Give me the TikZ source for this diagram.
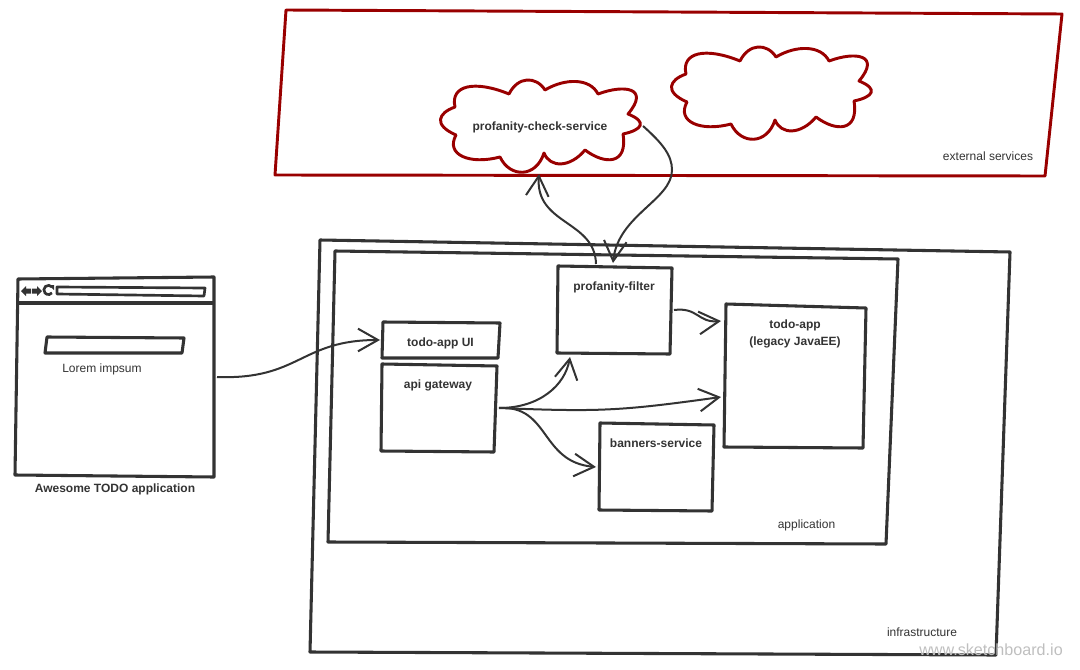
\documentclass[tikz,border=0pt]{standalone}
\usepackage{fontspec}
\setmainfont{Liberation Sans}
\usetikzlibrary{arrows.meta}
\definecolor{inkdark}{HTML}{333333}
\definecolor{inkred}{HTML}{990000}
\tikzset{
  sketchbox/.style={draw=inkdark,line width=2.3pt,line join=round},
  redbox/.style={draw=inkred,line width=2.2pt,line join=round},
  flow/.style={draw=inkdark,line width=1.5pt,-{Straight Barb[length=15pt,width=17pt,line width=1.5pt]}},
  boxlabel/.style={font=\fontsize{9pt}{12.75pt}\selectfont\bfseries,text=inkdark,align=center,inner sep=0pt},
  plainlabel/.style={font=\fontsize{9pt}{10pt}\selectfont,text=inkdark,inner sep=0pt},
}
\newcommand{\cloudoutline}{(455,107) .. controls (450,85) and (475,80) .. (509,94)
  .. controls (518,76) and (536,76) .. (545,90)
  .. controls (565,78) and (590,78) .. (598,94)
  .. controls (625,84) and (650,88) .. (628,114)
  .. controls (648,122) and (642,130) .. (623,134)
  .. controls (628,165) and (605,165) .. (585,150)
  .. controls (570,168) and (550,168) .. (544,153)
  .. controls (536,178) and (510,178) .. (500,157)
  .. controls (470,165) and (445,155) .. (456,135)
  .. controls (433,125) and (438,113) .. (455,107) -- cycle}
\begin{document}
\begin{tikzpicture}[x=0.75pt,y=-0.75pt]
\useasboundingbox (0,0) rectangle (1080,670);
\draw[redbox] (286,10) -- (1062,14) -- (1045,176) -- (275,175) -- cycle;   % external services
\draw[redbox] \cloudoutline;
\begin{scope}[shift={(231,-33)}]
\draw[redbox] \cloudoutline;
\end{scope}
\draw[sketchbox] (320,240) -- (1010,252) -- (996,655) -- (310,652) -- cycle; % infrastructure
\draw[sketchbox] (335,251) -- (898,259) -- (886,544) -- (328,542) -- cycle;  % application
\draw[sketchbox] (558,266) -- (672,268) -- (670,354) -- (557,353) -- cycle;  % profanity-filter
\draw[sketchbox] (383,322) -- (500,323) -- (498,358) -- (382,358) -- cycle;  % todo-app UI
\draw[sketchbox] (382,364) -- (497,366) -- (494,452) -- (381,451) -- cycle;  % api gateway
\draw[sketchbox] (600,423) -- (714,425) -- (712,511) -- (599,510) -- cycle;  % banners-service
\draw[sketchbox] (726,304) -- (866,308) -- (863,448) -- (724,447) -- cycle;  % todo-app
\draw[sketchbox] (18,279) -- (214,277) -- (214,477) -- (15,475) -- cycle;    % the browser
\draw[sketchbox] (17,303) -- (214,303);
\draw[sketchbox,line width=2pt] (57,287) -- (205,288) -- (204,296) -- (57,294) -- cycle;
\draw[sketchbox] (47,337) -- (184,338) -- (182,353) -- (45,353) -- cycle;
\fill[inkdark] (21,291) -- (26,286) -- (26,288.5) -- (31,288.5) -- (31,293.5) -- (26,293.5) -- (26,296) -- cycle; % back
\fill[inkdark] (42,291) -- (37,286) -- (37,288.5) -- (32,288.5) -- (32,293.5) -- (37,293.5) -- (37,296) -- cycle; % forward
\draw[inkdark,line width=2pt] (52,287) arc (-40:-320:4.6);                   % reload
\fill[inkdark] (49,285) -- (54,285) -- (54,290) -- cycle;
\node[boxlabel] (browserlabel) at (115,489) {Awesome TODO application};
\node[plainlabel] (loremlabel) at (102,369) {Lorem impsum};
\node[boxlabel] (checklabel) at (540,127) {profanity-check-service};
\node[plainlabel] (externallabel) at (988,156) {external services};
\node[boxlabel] (filterlabel) at (614,287) {profanity-filter};
\node[boxlabel] (uilabel) at (440.5,343) {todo-app UI};
\node[boxlabel] (gatewaylabel) at (438,385) {api gateway};
\node[boxlabel] (bannerslabel) at (656,443) {banners-service};
\node[boxlabel] (todolabel) at (795,333.5) {todo-app\\(legacy JavaEE)};
\node[plainlabel] (applicationlabel) at (806.5,525) {application};
\node[plainlabel] (infralabel) at (922,632) {infrastructure};
\node[font=\fontsize{12.1pt}{14pt}\selectfont,text=black!25,inner sep=0pt] (watermark) at (991,650) {www.sketchboard.io};
\coordinate (browserout) at (217,377);
\coordinate (uiin) at (380,340);
\coordinate (gatewayout) at (499,408);
\coordinate (filterin) at (570,357);
\coordinate (todoin) at (721,397);
\coordinate (bannersin) at (596,467);
\coordinate (filterright) at (674,310);
\coordinate (todotop) at (721,321);
\coordinate (filtertop) at (596,264);
\coordinate (checkin) at (539,174);
\coordinate (checkout) at (643,126);
\coordinate (checkbend) at (672,170);
\coordinate (filterback) at (613,263);
\draw[flow] (browserout) .. controls (300,380) and (300,340) .. (uiin);
\draw[flow] (gatewayout) .. controls (540,408) and (565,385) .. (filterin);
\draw[flow] (gatewayout) .. controls (600,412) and (620,411) .. (todoin);
\draw[flow] (gatewayout) .. controls (550,405) and (540,462) .. (bannersin);
\draw[flow] (filterright) .. controls (698,307) and (698,323) .. (todotop);
\draw[flow] (filtertop) .. controls (595,220) and (535,225) .. (checkin);
\draw[flow] (checkout) .. controls (662,143) and (672,155) .. (checkbend) .. controls (672,200) and (618,215) .. (filterback);
\end{tikzpicture}
\end{document}
